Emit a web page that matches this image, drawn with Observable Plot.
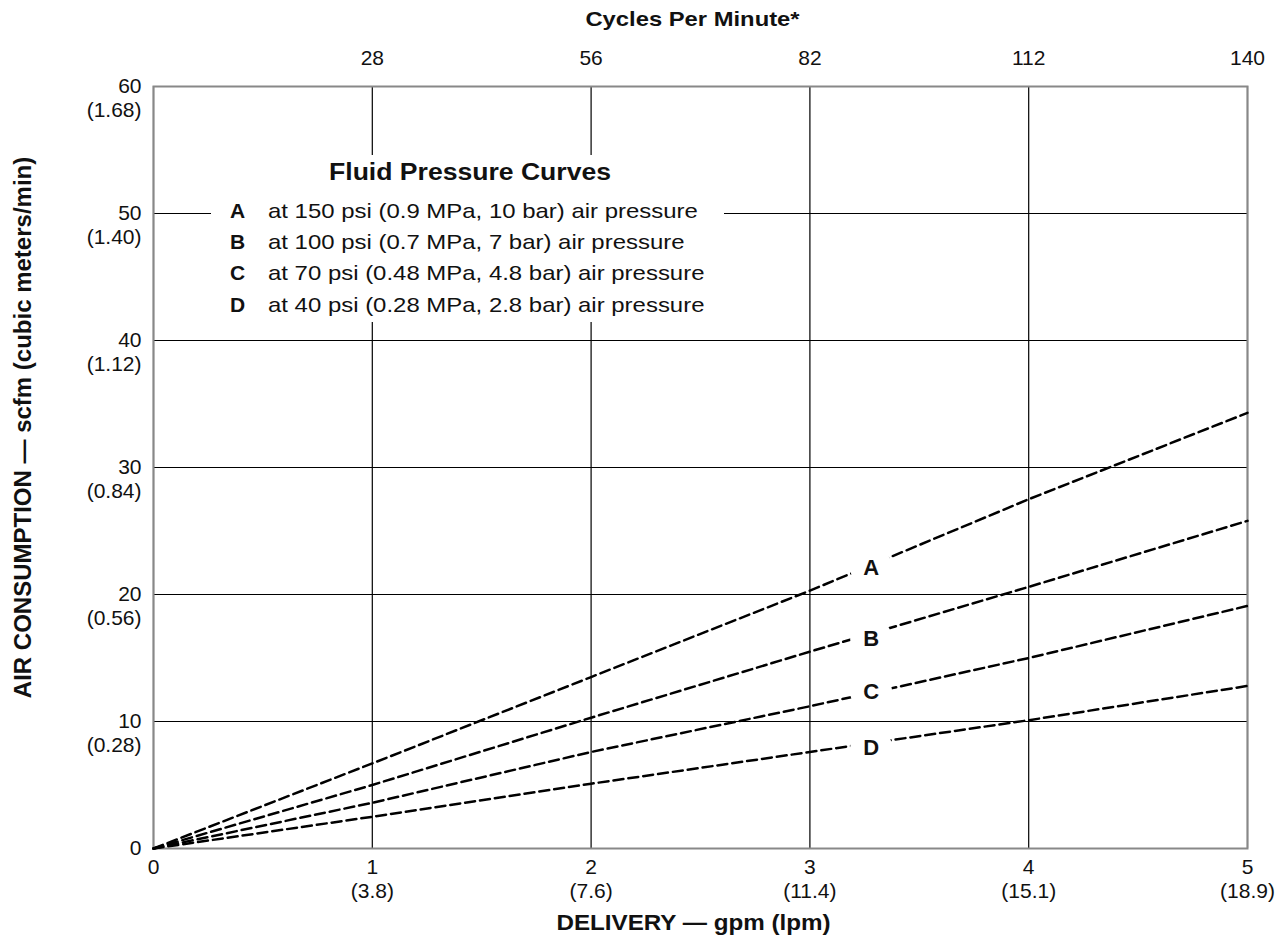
<!DOCTYPE html>
<html><head><meta charset="utf-8">
<script src="https://cdn.jsdelivr.net/npm/d3@7"></script>
<script src="https://cdn.jsdelivr.net/npm/@observablehq/plot@0.6"></script>
<style>
body{margin:0;background:#fff;font-family:"Liberation Sans",Arial,sans-serif;}
#wrap{position:relative;width:1285px;height:949px;}
#legendbox{position:absolute;left:211px;top:155px;width:513px;height:167px;background:#fff;}
.lg{position:absolute;line-height:1;white-space:nowrap;color:#111;}
</style></head>
<body><div id="wrap"><div id="chart"></div>
<div id="legendbox"></div></div>
<script>
const delivery = [0, 1, 2, 3, 4, 5];
const seriesA = [0, 6.7, 13.5, 20.3, 27.5, 34.3];
const seriesB = [0, 5.0, 10.3, 15.5, 20.6, 25.8];
const seriesC = [0, 3.6, 7.6, 11.2, 15.0, 19.1];
const seriesD = [0, 2.5, 5.1, 7.6, 10.1, 12.8];
const curveNames = ["A", "B", "C", "D"];
const curveLabelX = [3.28, 3.28, 3.28, 3.28];
const curveLabelY = [22.1, 16.5, 12.3, 7.95];
const legendTitle = "Fluid Pressure Curves";
const legendTexts = [
  "at 150 psi (0.9 MPa, 10 bar) air pressure",
  "at 100 psi (0.7 MPa, 7 bar) air pressure",
  "at 70 psi (0.48 MPa, 4.8 bar) air pressure",
  "at 40 psi (0.28 MPa, 2.8 bar) air pressure"
];
const xTicks = [0, 1, 2, 3, 4, 5];
const xLpmLabels = ["", "(3.8)", "(7.6)", "(11.4)", "(15.1)", "(18.9)"];
const cpmLabels = ["", "28", "56", "82", "112", "140"];
const yTicks = [0, 10, 20, 30, 40, 50, 60];
const yCmmLabels = ["", "(0.28)", "(0.56)", "(0.84)", "(1.12)", "(1.40)", "(1.68)"];
const topTitle = "Cycles Per Minute*";
const xTitle = "DELIVERY — gpm (lpm)";
const yTitle = "AIR CONSUMPTION — scfm (cubic meters/min)";

const all = [seriesA, seriesB, seriesC, seriesD];
const rows = [];
all.forEach((s, k) => s.forEach((v, i) => rows.push({curve: curveNames[k], x: delivery[i], y: v})));
const labels = curveNames.map((n, i) => ({n, x: curveLabelX[i], y: curveLabelY[i]}));
const font = "Liberation Sans, Arial, sans-serif";
const ink = "#111";

const chart = Plot.plot({
  width: 1285, height: 949,
  marginLeft: 153, marginRight: 38, marginTop: 86, marginBottom: 101,
  x: {domain: [0, 5], axis: null},
  y: {domain: [0, 60], axis: null},
  style: {fontFamily: font, background: "#fff", color: ink},
  marks: [
    Plot.ruleY(yTicks, {stroke: "#000", strokeWidth: 1.2}),
    Plot.ruleX(xTicks, {stroke: "#000", strokeWidth: 1.2}),
    Plot.frame({stroke: "#888", strokeWidth: 2}),
    Plot.line(rows, {x: "x", y: "y", z: "curve", stroke: "#000", strokeWidth: 2.5, strokeDasharray: "10,5"}),
    Plot.dot(labels, {x: "x", y: "y", r: 21, fill: "#fff", stroke: null}),
    Plot.text(labels, {x: "x", y: "y", text: "n", fontSize: 22, fontWeight: "bold", fill: ink}),
    // bottom axis
    Plot.text(xTicks, {x: d => d, y: 0, text: d => String(d), dy: 19, fontSize: 21, fill: ink}),
    Plot.text(xTicks, {x: d => d, y: 0, text: (d, i) => xLpmLabels[i], dy: 43, fontSize: 21, fill: ink}),
    // top axis
    Plot.text(xTicks, {x: d => d, y: 60, text: (d, i) => cpmLabels[i], dy: -28, fontSize: 21, fill: ink}),
    // left axis
    Plot.text(yTicks, {x: 0, y: d => d, text: d => String(d), dx: -12, dy: 0, textAnchor: "end", fontSize: 21, fill: ink}),
    Plot.text(yTicks, {x: 0, y: d => d, text: (d, i) => yCmmLabels[i], dx: -12, dy: 24, textAnchor: "end", fontSize: 21, fill: ink}),
    // titles
    Plot.text([topTitle], {frameAnchor: "top", lineAnchor: "middle", dy: -66.5, dx: -8, fontSize: 19.5, fontWeight: "bold", fill: ink}),
    Plot.text([xTitle], {frameAnchor: "bottom", lineAnchor: "middle", dy: 74.5, dx: -7, fontSize: 22, fontWeight: "bold", fill: ink}),
    Plot.text([yTitle], {frameAnchor: "left", textAnchor: "middle", lineAnchor: "middle", dx: -130, dy: -40, rotate: -90, fontSize: 24, fontWeight: "bold", fill: ink})
  ]
});

function stretch(svg, content, f) {
  svg.querySelectorAll("text").forEach(t => {
    if (t.textContent !== content) return;
    let tr = t.getAttribute("transform") || "";
    if (t.hasAttribute("x")) {
      const x = parseFloat(t.getAttribute("x")) || 0;
      t.removeAttribute("x");
      tr = `translate(${x},0) ` + tr;
    }
    t.setAttribute("transform", tr + ` scale(${f},1)`);
  });
}
stretch(chart, topTitle, 1.22);
stretch(chart, xTitle, 1.1);
document.getElementById("chart").appendChild(chart);

// legend (HTML overlay on a white box)
const wrap = document.getElementById("wrap");
function addText(txt, left, capCenter, fs, bold, sx, center) {
  const d = document.createElement("div");
  d.className = "lg";
  d.textContent = txt;
  d.style.fontSize = fs + "px";
  d.style.fontWeight = bold ? "bold" : "normal";
  d.style.top = (capCenter - 0.4885 * fs) + "px";
  if (center) {
    d.style.left = (left - 300) + "px"; d.style.width = "600px"; d.style.textAlign = "center";
    d.style.transformOrigin = "50% 50%";
  } else {
    d.style.left = left + "px"; d.style.transformOrigin = "0 50%";
  }
  d.style.transform = `scaleX(${sx})`;
  wrap.appendChild(d);
}
addText(legendTitle, 470, 172, 23.5, true, 1.13, true);
legendTexts.forEach((s, i) => {
  const c = 210 + i * 31.3;
  addText(curveNames[i], 230, c, 21, true, 1.0, false);
  addText(s, 268, c, 21, false, 1.14, false);
});
</script></body></html>
